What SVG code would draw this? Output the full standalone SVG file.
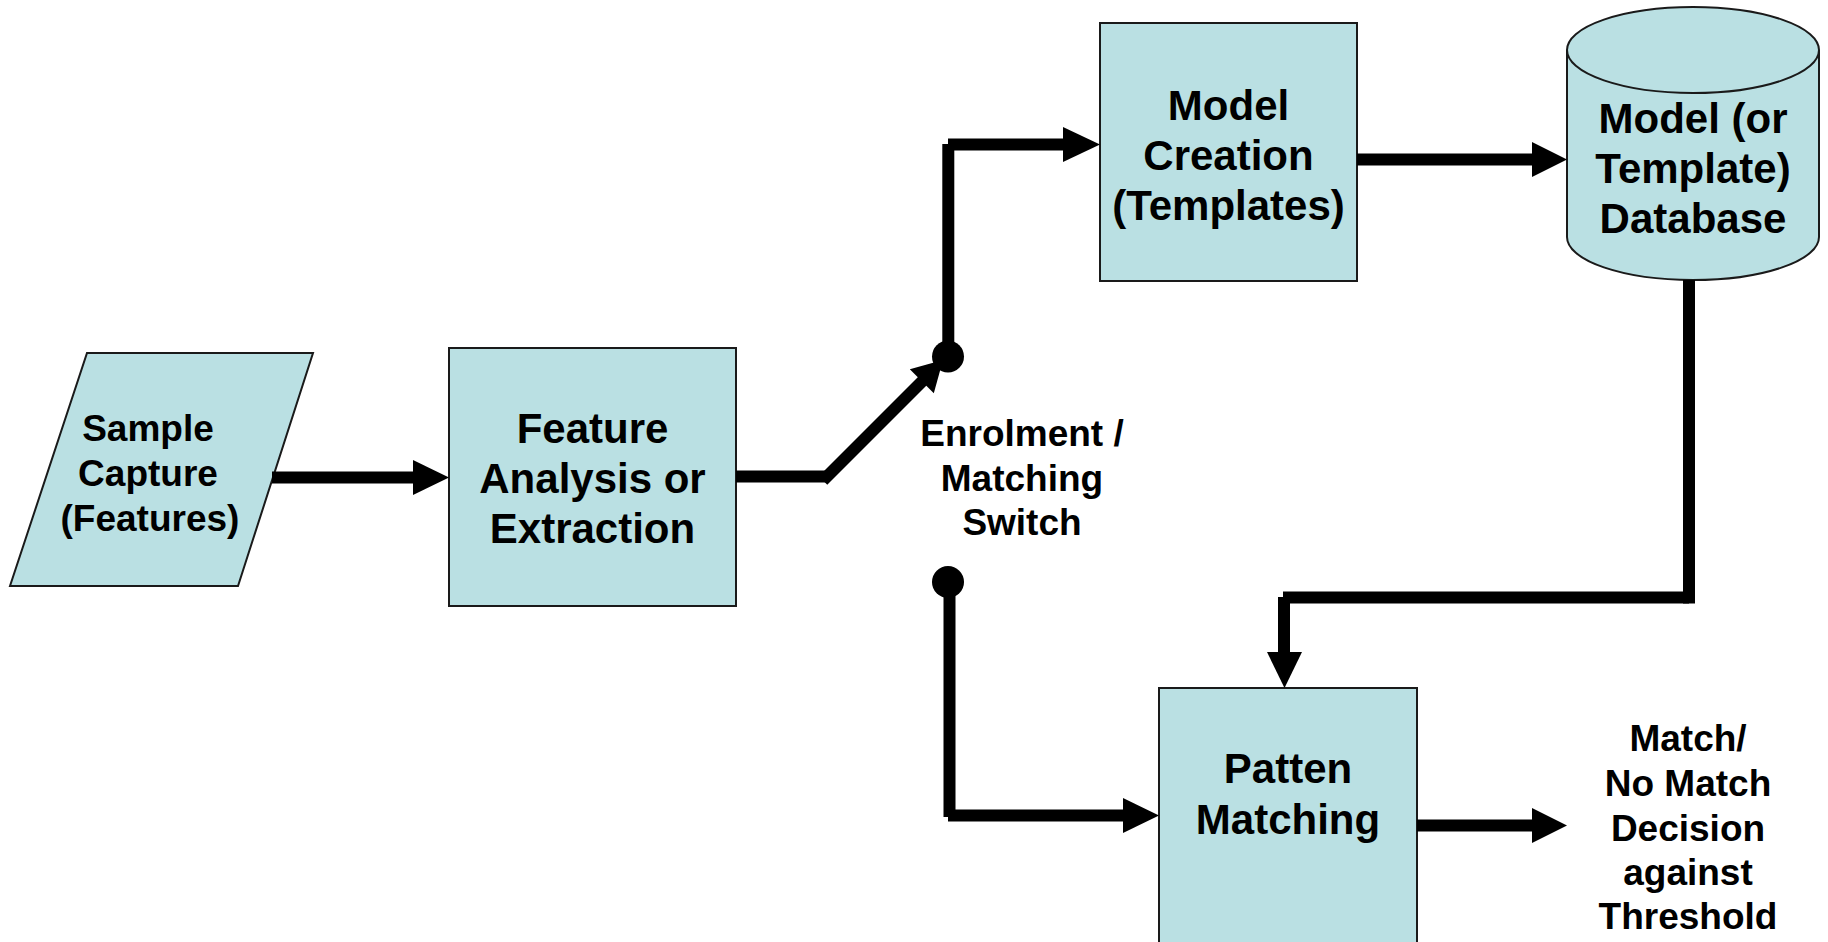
<svg xmlns="http://www.w3.org/2000/svg" width="1828" height="942" viewBox="0 0 1828 942">
  <style>
    .shape { fill: #bae0e3; stroke: #1a1a1a; stroke-width: 2; }
    .lbl { font-family: "Liberation Sans", Arial, sans-serif; font-weight: bold; fill: #000; text-anchor: middle; }
    .big { font-size: 42px; }
    .mid { font-size: 37px; }
    .wire { stroke: #000; stroke-width: 12; fill: none; stroke-linecap: butt; }
    .head { fill: #000; }
  </style>
  <rect width="1828" height="942" fill="#fff"/>

  <!-- Nodes -->
  <g id="sample-capture">
    <polygon class="shape" points="87,353 313,353 238,586 10,586"/>
    <text class="lbl mid" x="148" y="441">Sample</text>
    <text class="lbl mid" x="148" y="486">Capture</text>
    <text class="lbl mid" x="150" y="531">(Features)</text>
  </g>

  <g id="feature-extraction">
    <rect class="shape" x="449" y="348" width="287" height="258"/>
    <text class="lbl big" x="592.5" y="443">Feature</text>
    <text class="lbl big" x="592.5" y="493">Analysis or</text>
    <text class="lbl big" x="592.5" y="543">Extraction</text>
  </g>

  <g id="model-creation">
    <rect class="shape" x="1100" y="23" width="257" height="258"/>
    <text class="lbl big" x="1228.5" y="120">Model</text>
    <text class="lbl big" x="1228.5" y="170">Creation</text>
    <text class="lbl big" x="1228.5" y="220">(Templates)</text>
  </g>

  <g id="template-database">
    <path class="shape" d="M1567,50 A126,43 0 0 1 1819,50 V237 A126,43 0 0 1 1567,237 Z"/>
    <path class="shape" d="M1567,50 A126,43 0 0 0 1819,50"/>
    <text class="lbl big" x="1693" y="133">Model (or</text>
    <text class="lbl big" x="1693" y="183">Template)</text>
    <text class="lbl big" x="1693" y="233">Database</text>
  </g>

  <g id="pattern-matching">
    <rect class="shape" x="1159" y="688" width="258" height="300"/>
    <text class="lbl big" x="1288" y="783">Patten</text>
    <text class="lbl big" x="1288" y="834">Matching</text>
  </g>

  <g id="switch-label">
    <text class="lbl mid" x="1022" y="446">Enrolment /</text>
    <text class="lbl mid" x="1022" y="490.5">Matching</text>
    <text class="lbl mid" x="1022" y="535">Switch</text>
  </g>

  <g id="decision-label">
    <text class="lbl mid" x="1688" y="751">Match/</text>
    <text class="lbl mid" x="1688" y="796">No Match</text>
    <text class="lbl mid" x="1688" y="841">Decision</text>
    <text class="lbl mid" x="1688" y="885">against</text>
    <text class="lbl mid" x="1688" y="929">Threshold</text>
  </g>

  <!-- Connectors -->
  <g id="connectors">
    <!-- sample capture to feature extraction -->
    <line class="wire" x1="272" y1="477.5" x2="414" y2="477.5"/>
    <polygon class="head" points="413,460 449,477.5 413,495"/>

    <!-- feature extraction to switch blade -->
    <line class="wire" x1="736" y1="476.5" x2="828" y2="476.5"/>
    <line class="wire" x1="823" y1="480.5" x2="923" y2="380.5"/>
    <polygon class="head" points="909.8,369.2 943,360 933.8,393.2"/>

    <!-- switch contacts -->
    <circle class="head" cx="948" cy="356.5" r="16"/>
    <circle class="head" cx="948" cy="582" r="16"/>

    <!-- enrolment path to model creation -->
    <line class="wire" x1="948.3" y1="356" x2="948.3" y2="144"/>
    <line class="wire" x1="948" y1="144.5" x2="1064" y2="144.5"/>
    <polygon class="head" points="1063,127 1100,144.5 1063,162"/>

    <!-- model creation to database -->
    <line class="wire" x1="1357" y1="159.5" x2="1533" y2="159.5"/>
    <polygon class="head" points="1532,142 1567,159.5 1532,177"/>

    <!-- database to pattern matching -->
    <line class="wire" x1="1689" y1="280" x2="1689" y2="603.5"/>
    <line class="wire" x1="1283" y1="597.5" x2="1689" y2="597.5"/>
    <line class="wire" x1="1284" y1="597" x2="1284" y2="653"/>
    <polygon class="head" points="1267,652 1302,652 1284.5,688"/>

    <!-- matching path to pattern matching -->
    <line class="wire" x1="949.5" y1="582" x2="949.5" y2="817"/>
    <line class="wire" x1="948" y1="815.5" x2="1124" y2="815.5"/>
    <polygon class="head" points="1123,798 1159,815.5 1123,833"/>

    <!-- pattern matching to decision -->
    <line class="wire" x1="1417" y1="825.5" x2="1533" y2="825.5"/>
    <polygon class="head" points="1532,808 1567,825.5 1532,843"/>
  </g>
</svg>
